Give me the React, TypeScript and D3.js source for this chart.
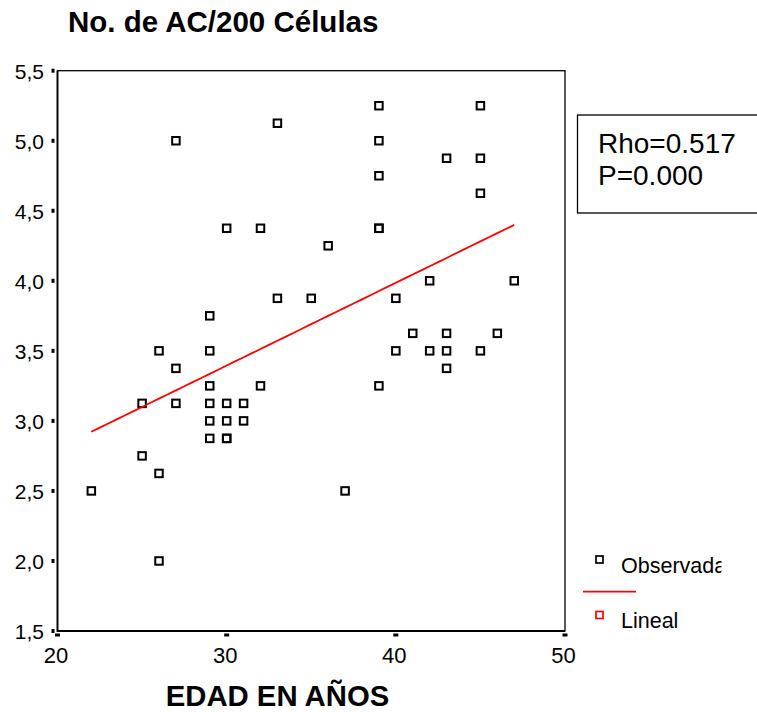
import React from "react";
import * as d3 from "d3";

// Observed points (age in years, AC per 200 cells)
const ages = [
  27, 33, 30, 32, 33, 29, 39, 45, 39, 43, 45, 39, 45, 39, 39, 36, 42, 47, 35, 40,
  41, 43, 46, 40, 42, 43, 45, 43, 39, 37, 26, 29, 27, 29, 32, 25, 27, 29, 30, 31,
  29, 30, 31, 29, 30, 30, 25, 26, 22, 26,
];
const acValues = [
  5.0, 5.125, 4.375, 4.375, 3.875, 3.75, 5.25, 5.25, 5.0, 4.875, 4.875, 4.75, 4.625,
  4.375, 4.375, 4.25, 4.0, 4.0, 3.875, 3.875, 3.625, 3.625, 3.625, 3.5, 3.5, 3.5, 3.5,
  3.375, 3.25, 2.5, 3.5, 3.5, 3.375, 3.25, 3.25, 3.125, 3.125, 3.125, 3.125, 3.125,
  3.0, 3.0, 3.0, 2.875, 2.875, 2.875, 2.75, 2.625, 2.5, 2.0,
];

const xTicks = [20, 30, 40, 50];
const yTicks = [1.5, 2.0, 2.5, 3.0, 3.5, 4.0, 4.5, 5.0, 5.5];
const yTickLabels = ["1,5", "2,0", "2,5", "3,0", "3,5", "4,0", "4,5", "5,0", "5,5"];
const statLines = ["Rho=0.517", "P=0.000"];
const legendLabels = ["Observada", "Lineal"];

const W = 757;
const H = 712;
const FONT = "'Liberation Sans', Arial, sans-serif";

export default function App() {
  const x = d3.scaleLinear().domain([20, 50]).range([57.5, 565]);
  const y = d3.scaleLinear().domain([1.5, 5.5]).range([631, 70.7]);

  // least squares fit
  const mx = d3.mean(ages)!;
  const my = d3.mean(acValues)!;
  const sxy = d3.sum(ages, (a, i) => (a - mx) * (acValues[i] - my));
  const sxx = d3.sum(ages, (a) => (a - mx) * (a - mx));
  const slope = sxy / sxx;
  const fit = (a: number) => my + slope * (a - mx);
  const [minAge, maxAge] = d3.extent(ages) as [number, number];
  const fitLine = d3
    .line<number>()
    .x((a) => x(a))
    .y((a) => y(fit(a)))(d3.range(minAge, maxAge + 0.01, 0.5));

  const pts = ages.map((a, i) => ({ a, v: acValues[i] }));
  const s = 7.5;

  return (
    <svg
      width={W}
      height={H}
      style={{ position: "absolute", left: 0, top: 0, background: "#fff" }}
      fontFamily={FONT}
    >
      <defs>
        <clipPath id="legclip">
          <rect x={570} y={530} width={151.5} height={110} />
        </clipPath>
      </defs>

      <text x={68} y={31.5} fontSize={29.5} fontWeight="bold" fill="#000">
        No. de AC/200 Células
      </text>

      {/* plot frame */}
      <rect x={x(20)} y={y(5.5)} width={x(50) - x(20)} height={y(1.5) - y(5.5)} fill="none" stroke="#000" strokeWidth={1.3} />
      <line x1={x(20)} x2={x(20)} y1={y(5.5)} y2={y(1.5) + 1} stroke="#000" strokeWidth={1.8} />
      <line x1={x(20)} x2={x(50)} y1={y(1.5)} y2={y(1.5)} stroke="#000" strokeWidth={1.8} />

      {/* y axis */}
      {yTicks.map((t, i) => (
        <g key={t}>
          <rect x={51.5} y={y(t) - 2} width={3} height={4} fill="#000" />
          <text x={44} y={y(t) + 8} fontSize={21} textAnchor="end" fill="#000">
            {yTickLabels[i]}
          </text>
        </g>
      ))}

      {/* x axis */}
      {xTicks.map((t) => (
        <g key={t}>
          <rect x={x(t) - 2.5} y={633.5} width={5} height={3} fill="#000" />
          <text x={x(t) - 1.5} y={663} fontSize={22} textAnchor="middle" fill="#000">
            {t}
          </text>
        </g>
      ))}

      <text x={277.5} y={706} fontSize={29.3} fontWeight="bold" textAnchor="middle" fill="#000">
        EDAD EN AÑOS
      </text>

      {/* observed */}
      {pts.map((p, i) => (
        <rect
          key={i}
          x={x(p.a) - s / 2}
          y={y(p.v) - s / 2}
          width={s}
          height={s}
          fill="none"
          stroke="#000"
          strokeWidth={2}
        />
      ))}

      {/* linear fit */}
      <path d={fitLine ?? ""} fill="none" stroke="#ff0000" strokeWidth={1.8} />

      {/* stats box */}
      <rect x={577.5} y={115} width={200} height={98} fill="#fff" stroke="#000" strokeWidth={1.3} />
      {statLines.map((l, i) => (
        <text key={l} x={598} y={153 + i * 32} fontSize={28} fill="#000">
          {l}
        </text>
      ))}

      {/* legend */}
      <g clipPath="url(#legclip)">
        <rect x={596} y={556} width={7} height={7} fill="none" stroke="#000" strokeWidth={1.7} />
        <text x={621} y={573} fontSize={21.5} fill="#000">
          {legendLabels[0]}
        </text>
        <line x1={583} x2={636} y1={591.7} y2={591.7} stroke="#ff0000" strokeWidth={1.7} />
        <rect x={596} y={611.5} width={7} height={7} fill="none" stroke="#ff0000" strokeWidth={1.7} />
        <text x={621} y={628} fontSize={21.5} fill="#000">
          {legendLabels[1]}
        </text>
      </g>
    </svg>
  );
}
